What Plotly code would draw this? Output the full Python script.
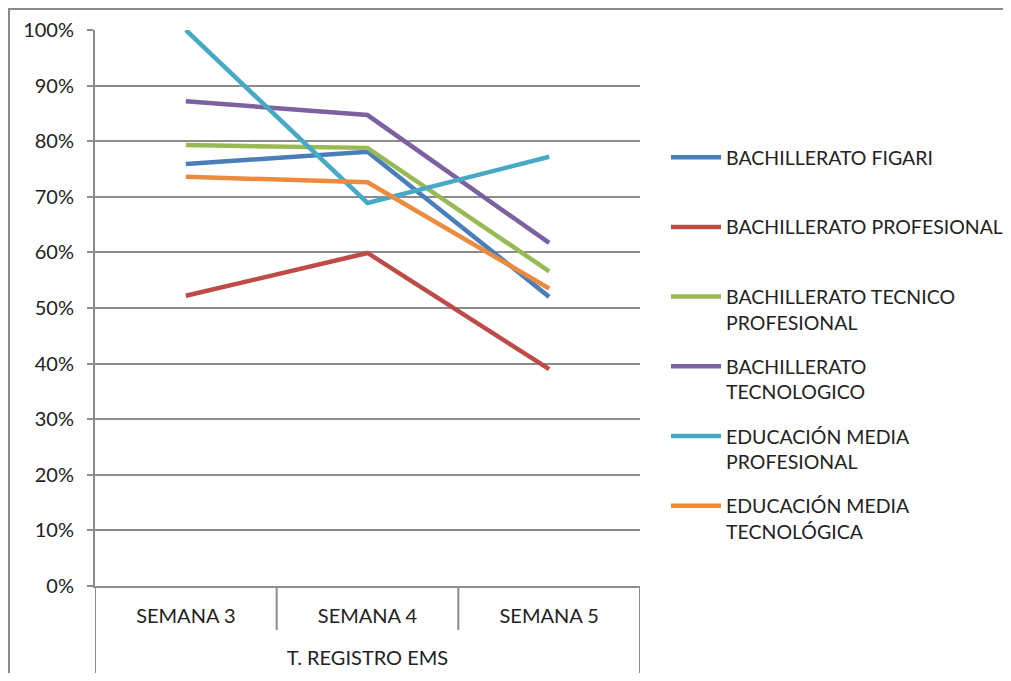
import plotly.graph_objects as go

group_label = "T. REGISTRO EMS"
weeks = ["SEMANA 3", "SEMANA 4", "SEMANA 5"]

series_names = [
    "BACHILLERATO FIGARI",
    "BACHILLERATO PROFESIONAL",
    "BACHILLERATO TECNICO<br>PROFESIONAL",
    "BACHILLERATO<br>TECNOLOGICO",
    "EDUCACIÓN MEDIA<br>PROFESIONAL",
    "EDUCACIÓN MEDIA<br>TECNOLÓGICA",
]
figari = [0.759, 0.781, 0.520]
profesional = [0.522, 0.599, 0.390]
tecnico_prof = [0.793, 0.788, 0.566]
tecnologico = [0.872, 0.847, 0.617]
emp = [1.00, 0.689, 0.772]
emt = [0.736, 0.726, 0.535]
series_values = [figari, profesional, tecnico_prof, tecnologico, emp, emt]
colors = ["#4A7EBB", "#BE4B48", "#98B954", "#7D60A0", "#46AAC5", "#EC8B3E"]

yticks = [i / 10 for i in range(11)]
ytick_text = [f"{int(round(v * 100))}%" for v in yticks]

FONT = "Lato"
GRID = "#8c8c8c"
TXT = "#222222"

fig = go.Figure()
for i, (name, vals, col) in enumerate(zip(series_names, series_values, colors)):
    label = name if "<br>" in name else name + "<br> "
    fig.add_trace(go.Scatter(
        x=weeks,
        y=vals,
        mode="lines",
        name=label,
        legendgroup=f"g{i}",
        line=dict(color=col, width=4.5),
    ))

# page has an 8px body margin: figure pixel = screen pixel - 8
OFF = 8
W, H = 1011 - 2 * OFF, 681 - 2 * OFF
L, R, T, B = 95 - OFF, 640 - OFF, 30 - OFF, 586 - OFF
PW, PH = R - L, B - T

fig.update_layout(
    width=W, height=H,
    margin=dict(l=L, r=W - R, t=T, b=H - B, autoexpand=False),
    paper_bgcolor="white",
    plot_bgcolor="white",
    font=dict(family=FONT, size=20, color=TXT),
    showlegend=True,
    legend=dict(
        x=(666 - OFF - L) / PW, xanchor="left",
        y=(B - (138 - OFF)) / PH, yanchor="top",
        valign="top",
        tracegroupgap=16,
        itemwidth=50,
        font=dict(family=FONT, size=19.5, color=TXT),
        bgcolor="rgba(0,0,0,0)",
    ),
    xaxis=dict(
        type="category",
        range=[-0.5, len(weeks) - 0.5],
        showline=True,
        linecolor=GRID,
        linewidth=2,
        showgrid=False,
        ticks="",
        ticklabelstandoff=11,
        tickfont=dict(family=FONT, size=20, color=TXT),
        title=dict(text=group_label, standoff=25,
                   font=dict(family=FONT, size=20, color=TXT)),
    ),
    yaxis=dict(
        range=[0, 1],
        tickvals=yticks,
        ticktext=ytick_text,
        showgrid=True,
        gridcolor=GRID,
        gridwidth=2,
        showline=True,
        linecolor=GRID,
        linewidth=2,
        ticks="outside",
        ticklen=6,
        tickwidth=2,
        tickcolor=GRID,
        ticklabelstandoff=9,
        zeroline=False,
        tickfont=dict(family=FONT, size=20, color=TXT),
    ),
)

# category dividers below the axis
n = len(weeks)
for k in range(n + 1):
    outer = k in (0, n)
    depth = (H - B) if outer else 44
    fig.add_shape(
        type="line", xref="x", yref="paper",
        x0=k - 0.5, x1=k - 0.5, y0=0, y1=-depth / PH,
        line=dict(color=GRID, width=2),
    )

# outer chart border (left and top edges visible)
fig.add_shape(
    type="rect", xref="paper", yref="paper",
    x0=(1 - L) / PW, x1=(W + 20 - L) / PW,
    y0=(B - (H + 20)) / PH, y1=(B - 1) / PH,
    line=dict(color="#8a8a8a", width=2), fillcolor="rgba(0,0,0,0)",
    layer="below",
)

fig.write_html("out.html")
